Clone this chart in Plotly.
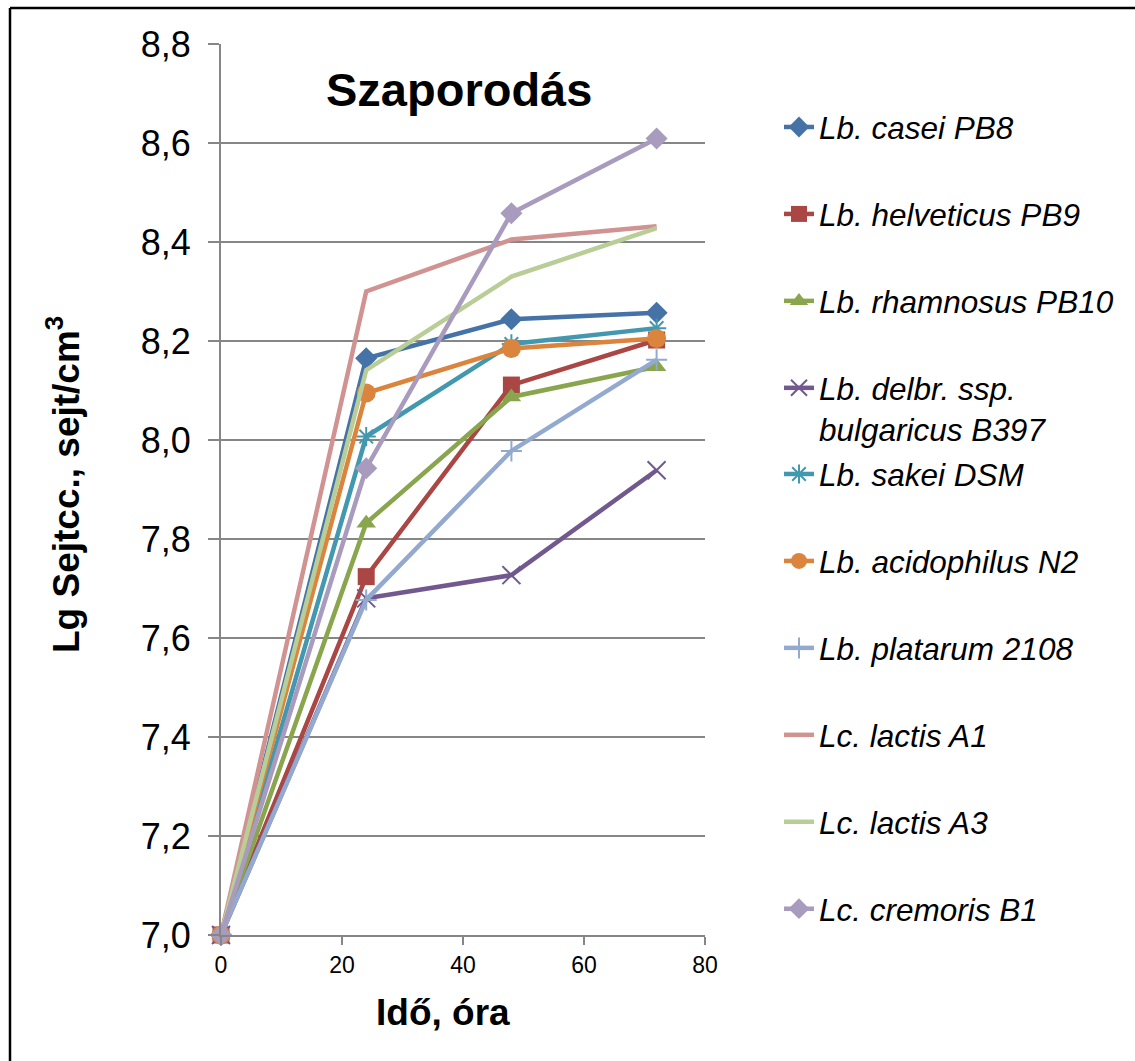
import plotly.graph_objects as go

times = [0, 24, 48, 72]
names = [
    "Lb. casei PB8", "Lb. helveticus PB9", "Lb. rhamnosus PB10",
    "Lb. delbr. ssp.<br>bulgaricus B397", "Lb. sakei DSM", "Lb. acidophilus N2",
    "Lb. platarum 2108", "Lc. lactis A1", "Lc. lactis A3", "Lc. cremoris B1",
]
casei = [7.0, 8.165, 8.244, 8.257]
helveticus = [7.0, 7.724, 8.111, 8.202]
rhamnosus = [7.0, 7.832, 8.087, 8.148]
bulgaricus = [7.0, 7.680, 7.727, 7.939]
sakei = [7.0, 8.007, 8.194, 8.226]
acidophilus = [7.0, 8.095, 8.185, 8.205]
plantarum = [7.0, 7.677, 7.978, 8.162]
lactisA1 = [7.0, 8.300, 8.405, 8.432]
lactisA3 = [7.0, 8.141, 8.330, 8.428]
cremoris = [7.0, 7.943, 8.458, 8.609]
series = [casei, helveticus, rhamnosus, bulgaricus, sakei, acidophilus,
          plantarum, lactisA1, lactisA3, cremoris]

colors = ["#4572A7", "#AA4643", "#89A54E", "#71588F", "#4198AF", "#DB843D",
          "#93A9CF", "#D19392", "#B9CD96", "#A99BBD"]
symbols = ["diamond", "square", "triangle-up", "x-thin", "asterisk", "circle",
           "cross-thin", None, None, "diamond"]
sizes = [17, 17, 17, 18, 16, 19, 15, 0, 0, 17]

W, H = 1135, 1061
L, R, T, B = 221, 430, 44, 126
pw, ph = W - L - R, H - T - B


def xp(px):
    return (px - L) / pw


def yp(py):
    return (H - B - py) / ph


fig = go.Figure()
for i, (nm, ys) in enumerate(zip(names, series)):
    sym = symbols[i]
    thin = sym in ("x-thin", "asterisk", "cross-thin")
    tr = dict(
        x=times, y=ys, name=nm,
        line=dict(color=colors[i], width=4.5),
        legendgroup=f"g{i}",
        legend="legend" if i < 4 else "legend2",
        cliponaxis=False,
    )
    if sym is None:
        tr["mode"] = "lines"
    else:
        tr["mode"] = "lines+markers"
        tr["marker"] = dict(symbol=sym, size=sizes[i], color=colors[i],
                            line=dict(color=colors[i], width=2 if thin else 0))
    fig.add_trace(go.Scatter(**tr))

font_family = "Liberation Sans, Arial, sans-serif"
legend_common = dict(
    font=dict(family=font_family, size=31.5, color="black", style="italic"),
    tracegroupgap=43, traceorder="grouped", valign="top",
    bgcolor="rgba(0,0,0,0)", xanchor="left", yanchor="top",
)

fig.update_layout(
    width=W, height=H,
    margin=dict(l=L, r=R, t=T, b=B),
    paper_bgcolor="white", plot_bgcolor="white",
    showlegend=True,
    legend=dict(x=xp(779), y=yp(100), **legend_common),
    legend2=dict(x=xp(779), y=yp(447), **legend_common),
    xaxis=dict(
        range=[0, 80], dtick=20, tick0=0,
        showgrid=False, zeroline=False,
        showline=True, linecolor="#868686", linewidth=2,
        ticks="outside", ticklen=8, tickcolor="#868686", tickwidth=2,
        tickfont=dict(family=font_family, size=23, color="black"),
    ),
    yaxis=dict(
        range=[7.0, 8.8], dtick=0.2, tick0=7.0, tickformat=".1f",
        showgrid=True, gridcolor="#868686", gridwidth=1.5,
        zeroline=False,
        showline=True, linecolor="#868686", linewidth=2,
        ticks="outside", ticklen=11, tickcolor="#868686", tickwidth=2,
        tickfont=dict(family=font_family, size=36, color="black"),
        ticklabelstandoff=10,
    ),
    separators=", ",
    annotations=[
        dict(text="<b>Szaporodás</b>", x=xp(459), y=yp(90), xref="paper", yref="paper",
             showarrow=False, xanchor="center", yanchor="middle",
             font=dict(family=font_family, size=47, color="black")),
        dict(text="<b>Lg Sejtcc., sejt/cm<sup>3</sup></b>", x=xp(64), y=yp(485),
             xref="paper", yref="paper", textangle=-90,
             showarrow=False, xanchor="center", yanchor="middle",
             font=dict(family=font_family, size=37, color="black")),
        dict(text="<b>Idő, óra</b>", x=xp(443), y=yp(1012), xref="paper", yref="paper",
             showarrow=False, xanchor="center", yanchor="middle",
             font=dict(family=font_family, size=37, color="black")),
    ],
    shapes=[
        dict(type="line", xref="paper", yref="paper", x0=xp(10), x1=xp(W), y0=yp(8), y1=yp(8),
             line=dict(color="black", width=2.5)),
        dict(type="line", xref="paper", yref="paper", x0=xp(10), x1=xp(10), y0=yp(8), y1=yp(H),
             line=dict(color="black", width=2.5)),
    ],
)

fig.write_html("out.html")
